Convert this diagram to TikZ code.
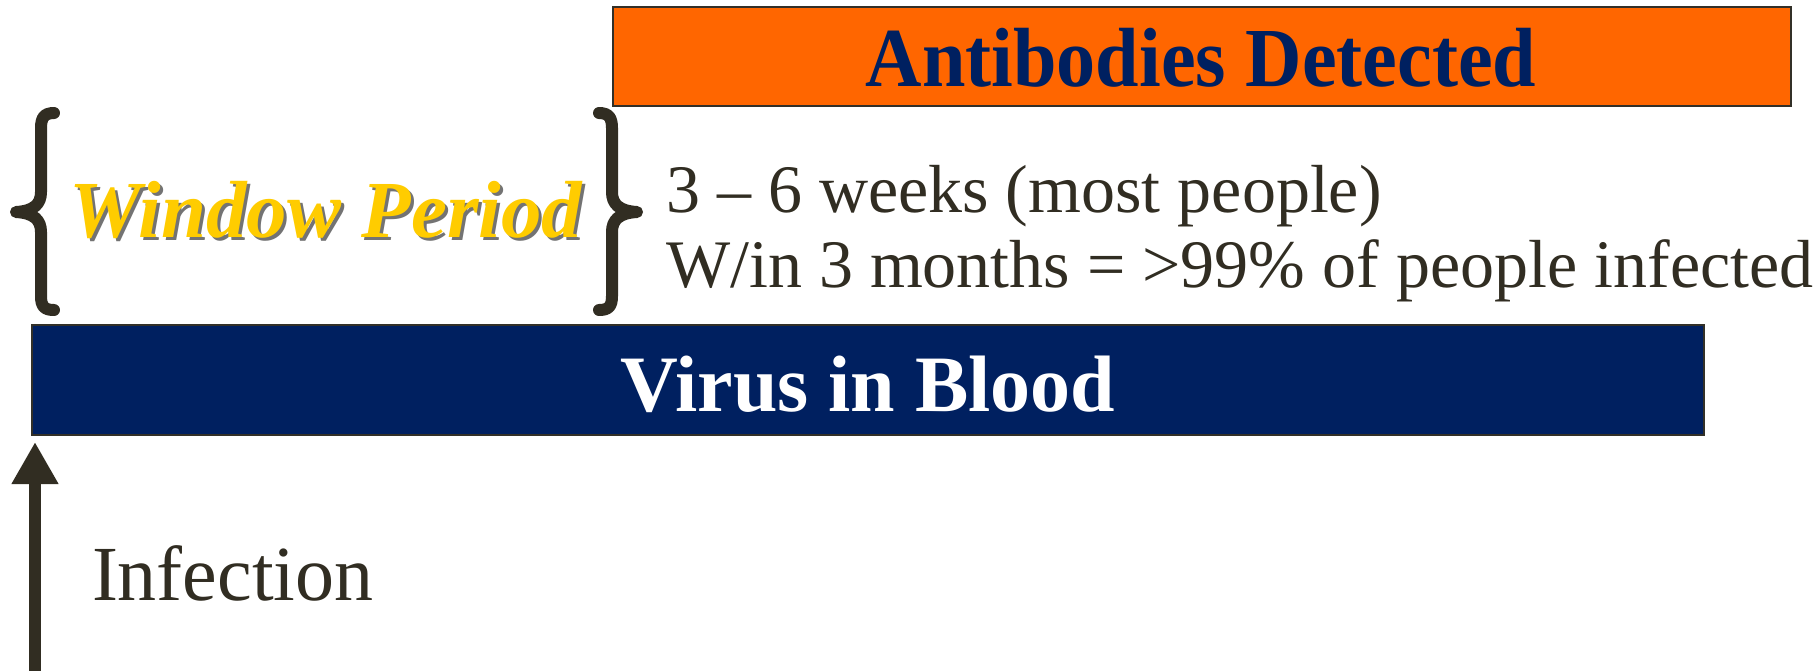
\documentclass[tikz,border=0pt]{standalone}
\usepackage{fontspec}
\setmainfont{Liberation Serif}
\usetikzlibrary{arrows.meta}
\definecolor{txt}{RGB}{49,45,34}
\definecolor{orangebox}{RGB}{255,102,0}
\definecolor{navy}{RGB}{0,32,96}
\definecolor{gold}{RGB}{255,204,0}
\definecolor{edge}{RGB}{50,48,40}
\tikzset{
  bar/.style={draw=edge, line width=2.5pt, inner sep=0pt, outer sep=0pt},
  bracestroke/.style={draw=txt, line width=12pt, line cap=round, line join=round},
  plain/.style={inner sep=0pt, outer sep=0pt, text=txt, font=\fontsize{68}{80}\selectfont},
}
\begin{document}
\begin{tikzpicture}[x=1pt,y=-1pt]
\useasboundingbox (0,0) rectangle (1814,670);
% bars
\node[bar, fill=orangebox, minimum width=1178pt, minimum height=99pt] (ab) at (1202,56.5) {};
\node[inner sep=0pt, text=navy, font=\bfseries\fontsize{84}{90}\selectfont, xscale=0.93] (abt) at (1201,58) {Antibodies Detected};
\node[bar, fill=navy, minimum width=1672pt, minimum height=110pt] (vb) at (868,380) {};
\node[inner sep=0pt, text=white, font=\bfseries\fontsize{80}{90}\selectfont] (vbt) at (868,384) {Virus in Blood};
% window period with shadow
\node[inner sep=0pt, anchor=base, text=black!55, font=\bfseries\itshape\fontsize{81}{90}\selectfont] (wps) at (329,240) {Window Period};
\node[inner sep=0pt, anchor=base, text=gold, font=\bfseries\itshape\fontsize{81}{90}\selectfont] (wp) at (326,237) {Window Period};
% braces
\draw[bracestroke] (54,113) .. controls (44,113) and (41,118) .. (41,128)
  -- (41,192) .. controls (41,204) and (34,211) .. (16,212)
  .. controls (34,213) and (41,220) .. (41,232)
  -- (41,296) .. controls (41,306) and (44,310) .. (54,310);
\draw[bracestroke] (599,113) .. controls (609,113) and (612,118) .. (612,128)
  -- (612,192) .. controls (612,204) and (619,211) .. (637,212)
  .. controls (619,213) and (612,220) .. (612,232)
  -- (612,296) .. controls (612,306) and (609,310) .. (599,310);
% side text
\node[plain, anchor=base west] (l1) at (666,212) {3 – 6 weeks (most people)};
\node[plain, anchor=base west] (l2) at (666,287) {W/in 3 months = >99\% of people infected};
% infection arrow
\coordinate (start) at (35,672);
\coordinate (tip) at (35,442);
\draw[draw=txt, fill=txt, line width=12pt, -{Triangle[length=42pt, width=44pt]}] (start) -- (tip);
\node[plain, anchor=base west, font=\fontsize{78}{90}\selectfont] (inf) at (92,600) {Infection};
\end{tikzpicture}
\end{document}
